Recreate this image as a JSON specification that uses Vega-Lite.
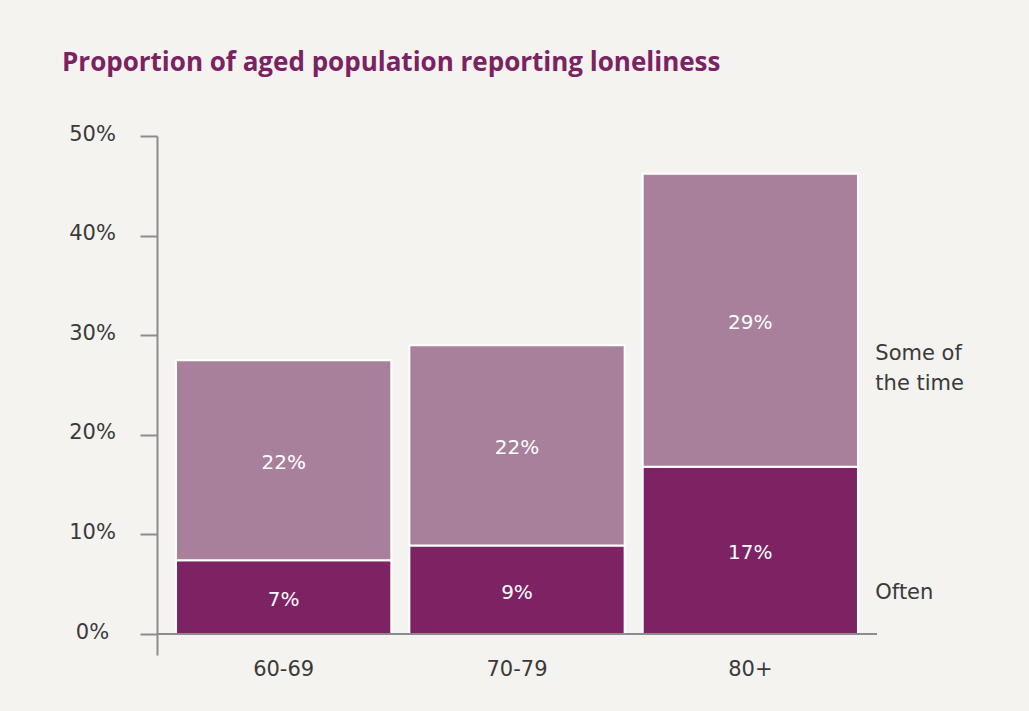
{
  "$schema": "https://vega.github.io/schema/vega-lite/v6.json",
  "width": 720,
  "height": 519,
  "autosize": {"type": "none"},
  "padding": {"left": 157, "top": 136, "right": 152, "bottom": 56},
  "background": "#f4f3ef",
  "config": {"view": {"stroke": null}, "font": "DejaVu Sans"},
  "title": {
    "text": "Proportion of aged population reporting loneliness",
    "anchor": "start",
    "frame": "group",
    "dx": -95,
    "offset": 47,
    "font": "Open Sans",
    "fontSize": 26,
    "fontWeight": "bold",
    "color": "#7b2262"
  },
  "data": {
    "values": [
      {"age": "60-69", "series": "Often", "order": 1, "value": 7.4, "label": "7%"},
      {"age": "60-69", "series": "Some of the time", "order": 2, "value": 20.1, "label": "22%"},
      {"age": "70-79", "series": "Often", "order": 1, "value": 8.9, "label": "9%"},
      {"age": "70-79", "series": "Some of the time", "order": 2, "value": 20.1, "label": "22%"},
      {"age": "80+", "series": "Often", "order": 1, "value": 16.8, "label": "17%"},
      {"age": "80+", "series": "Some of the time", "order": 2, "value": 29.4, "label": "29%"}
    ]
  },
  "transform": [
    {"stack": "value", "groupby": ["age"], "sort": [{"field": "order"}], "as": ["v0", "v1"]},
    {"calculate": "(datum.v0 + datum.v1) / 2", "as": "mid"}
  ],
  "layer": [
    {
      "mark": {"type": "bar", "stroke": "#ffffff", "strokeWidth": 2},
      "encoding": {
        "x": {
          "field": "age", "type": "nominal", "sort": ["60-69", "70-79", "80+"],
          "scale": {"paddingInner": 0.0773, "paddingOuter": 0.0815},
          "axis": {"title": null, "domain": false, "ticks": false, "labelAngle": 0, "labelPadding": 3, "labelFont": "DejaVu Sans", "labelFontSize": 21, "labelColor": "#3a3a3a"}
        },
        "y": {
          "field": "v0", "type": "quantitative",
          "scale": {"domain": [-2.1, 50], "nice": false, "zero": false},
          "axis": {
            "title": null, "grid": false, "values": [0, 10, 20, 30, 40, 50],
            "labelExpr": "datum.value + '%'",
            "domainColor": "#8c8c8c", "domainWidth": 2,
            "tickColor": "#8c8c8c", "tickWidth": 2, "tickSize": 17,
            "labelAlign": "center", "labelPadding": 48, "labelBaseline": "middle", "labelOffset": -2,
            "labelFont": "DejaVu Sans", "labelFontSize": 21, "labelColor": "#3a3a3a"
          }
        },
        "y2": {"field": "v1"},
        "color": {
          "field": "series", "type": "nominal",
          "scale": {"domain": ["Often", "Some of the time"], "range": ["#7d2364", "#a8809b"]},
          "legend": null
        }
      }
    },
    {
      "mark": {"type": "text", "color": "#ffffff", "font": "DejaVu Sans", "fontSize": 20, "baseline": "middle", "dy": 3},
      "encoding": {
        "x": {"field": "age", "type": "nominal", "sort": ["60-69", "70-79", "80+"]},
        "y": {"field": "mid", "type": "quantitative"},
        "text": {"field": "label"}
      }
    },
    {
      "mark": {"type": "rule", "color": "#8c8c8c", "strokeWidth": 2},
      "encoding": {"y": {"datum": 0}}
    },
    {
      "transform": [{"filter": "datum.age == '80+' && datum.series == 'Some of the time'"}],
      "mark": {"type": "text", "text": ["Some of", "the time"], "align": "left", "baseline": "middle", "dx": 125, "dy": 34, "lineHeight": 30, "font": "DejaVu Sans", "fontSize": 21, "color": "#3a3a3a"},
      "encoding": {
        "x": {"field": "age", "type": "nominal", "sort": ["60-69", "70-79", "80+"]},
        "y": {"field": "mid", "type": "quantitative"}
      }
    },
    {
      "transform": [{"filter": "datum.age == '80+' && datum.series == 'Often'"}],
      "mark": {"type": "text", "text": "Often", "align": "left", "baseline": "middle", "dx": 125, "dy": 43, "font": "DejaVu Sans", "fontSize": 21, "color": "#3a3a3a"},
      "encoding": {
        "x": {"field": "age", "type": "nominal", "sort": ["60-69", "70-79", "80+"]},
        "y": {"field": "mid", "type": "quantitative"}
      }
    }
  ]
}
